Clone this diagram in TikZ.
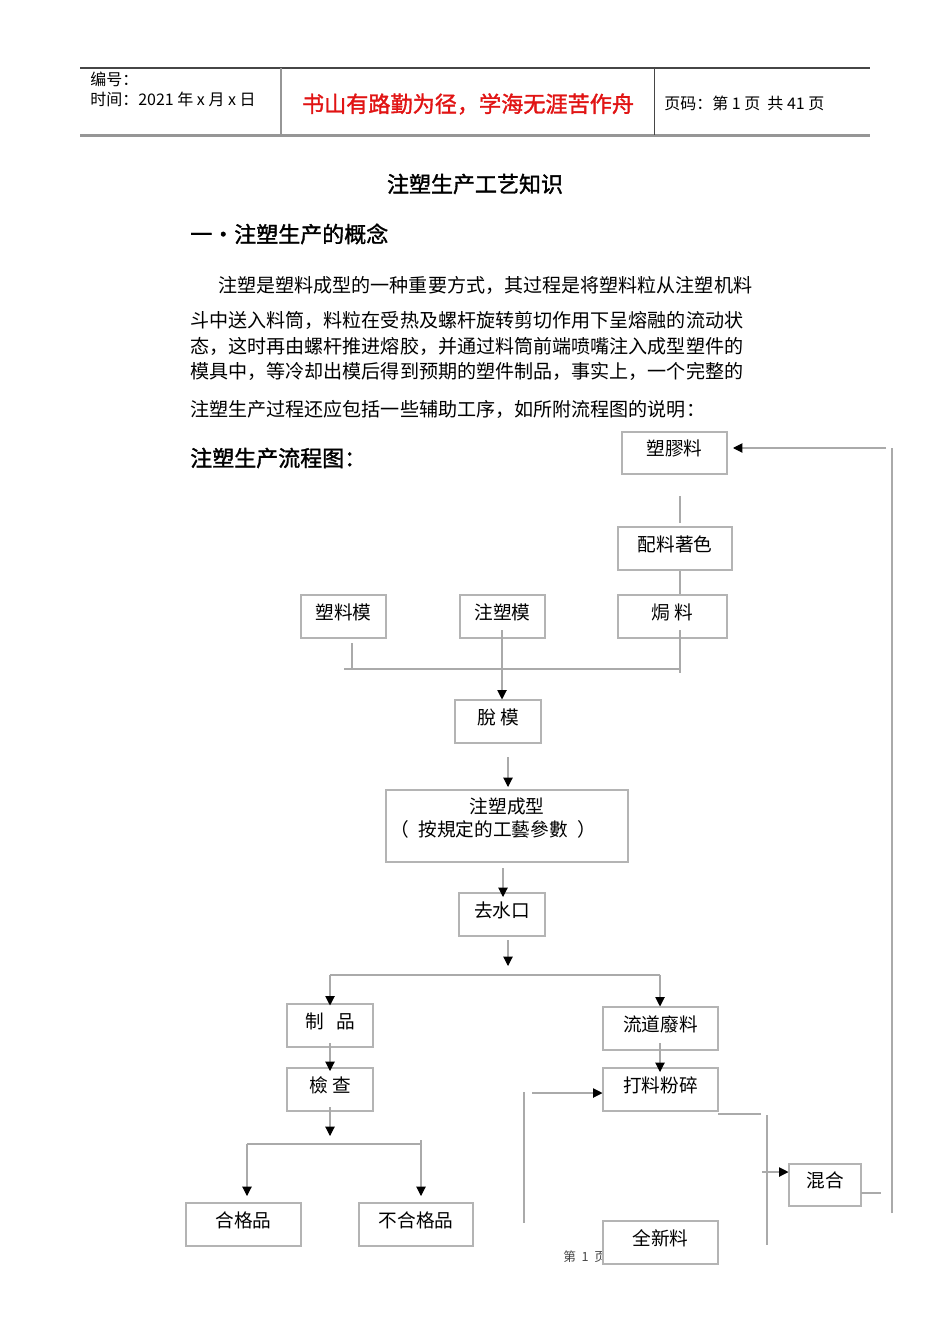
\documentclass[tikz,border=0pt]{standalone}
\usepackage{fontspec}
\setmainfont{Noto Sans CJK SC}
\newfontfamily\boldcjk{Noto Sans CJK SC}[FakeBold=1.5]
\usetikzlibrary{arrows.meta,calc}
\definecolor{linegray}{RGB}{170,170,170}
\definecolor{boxgray}{RGB}{180,180,180}
\definecolor{darkrule}{RGB}{70,70,70}
\definecolor{midrule}{RGB}{150,150,150}
\definecolor{motto}{RGB}{225,20,20}
\begin{document}
\begin{tikzpicture}[x=0.75pt,y=-0.75pt,
  wh/.style 2 args={minimum width=#1*0.75pt,minimum height=#2*0.75pt},
  box/.style={draw=boxgray,line width=0.8pt,fill=white,inner sep=0pt,
    text height=10pt,text depth=6pt,font=\fontsize{14}{17}\selectfont},
  conn/.style={draw=linegray,line width=0.8pt},
  arr/.style={conn,-{Triangle[width=7pt,length=7pt,color=black]}},
  txt/.style={anchor=west,inner sep=0pt},
  body/.style={txt,font=\fontsize{14.3}{17}\selectfont},
  head/.style={txt,font=\fontsize{12}{14}\selectfont},
  bold/.style={inner sep=0pt,font=\boldcjk\fontsize{16.5}{20}\selectfont}
]
\useasboundingbox[fill=white] (0,0) rectangle (950,1344);

% ---------- header ----------
\draw[darkrule,line width=1.1pt] (80,68) -- (870,68);
\draw[midrule,line width=1.8pt] (80,135.5) -- (870,135.5);
\draw[midrule,line width=1.2pt] (281,68) -- (281,135);
\draw[darkrule,line width=0.9pt] (654.5,68) -- (654.5,135);
\node[head] (hnum) at (90,79) {编号：};
\node[head] (hdate) at (90,99) {时间：2021 年 x 月 x 日};
\node[bold,text=motto,font=\boldcjk\fontsize{16.6}{20}\selectfont] (motto) at (468,104) {书山有路勤为径，学海无涯苦作舟};
\node[head] (hpage) at (664,103) {页码：第 1 页\ \ 共 41 页};

% ---------- title and text ----------
\node[bold] (title) at (475,184) {注塑生产工艺知识};
\node[bold,anchor=west] (sec1) at (190,234) {一·注塑生产的概念};
\node[body] (p1) at (218,285) {注塑是塑料成型的一种重要方式，其过程是将塑料粒从注塑机料};
\node[body] (p2) at (190,320) {斗中送入料筒，料粒在受热及螺杆旋转剪切作用下呈熔融的流动状};
\node[body] (p3) at (190,346) {态，这时再由螺杆推进熔胶，并通过料筒前端喷嘴注入成型塑件的};
\node[body] (p4) at (190,371) {模具中，等冷却出模后得到预期的塑件制品，事实上，一个完整的};
\node[body] (p5) at (190,409) {注塑生产过程还应包括一些辅助工序，如所附流程图的说明：};
\node[bold,anchor=west] (ftitle) at (190,458) {注塑生产流程图：};

% footer (partly hidden by a box)
\node[txt,text=darkrule,font=\fontsize{9.5}{11}\selectfont] (footer) at (563,1257) {第\ \ 1\ \ 页};

% ---------- boxes ----------
\node[box,wh={105}{42}] (plastic) at (674.5,453) {塑膠料};
\node[box,wh={114}{43}] (color)   at (675,548.5) {配料著色};
\node[box,wh={109}{43}] (bake)    at (672.5,616.5) {焗 料};
\node[box,wh={85}{43}]  (mold1)   at (343.5,616.5) {塑料模};
\node[box,wh={85}{43}]  (mold2)   at (502.5,616.5) {注塑模};
\node[box,wh={86}{43}]  (demold)  at (498,721.5) {脫 模};
\node[box,wh={242}{72}] (inject)  at (507,826) {};
\node[inner sep=0pt,align=center,font=\fontsize{14}{17.25}\selectfont] (injtext) at (493,818.5) {\hspace*{21pt}注塑成型\\（\enspace 按規定的工藝參數\enspace）};
\node[box,wh={86}{43}]  (sprue)   at (502,914.5) {去水口};
\node[box,wh={86}{43}]  (product) at (330,1025.5) {制\ \ \ 品};
\node[box,wh={115}{43}] (runner)  at (660.5,1028.5) {流道廢料};
\node[box,wh={86}{43}]  (inspect) at (330,1089.5) {檢 查};
\node[box,wh={115}{43}] (crush)   at (660.5,1089.5) {打料粉碎};
\node[box,wh={115}{43}] (pass)    at (243.5,1224.5) {合格品};
\node[box,wh={114}{43}] (fail)    at (416,1224.5) {不合格品};
\node[box,wh={72}{42}]  (mix)     at (825,1185) {混合};
\node[box,wh={115}{43}] (fresh)   at (660.5,1242.5) {全新料};

% ---------- connectors ----------
\coordinate (a1) at (680,496); \coordinate (a2) at (680,523);
\draw[conn] (a1) -- (a2);
\draw[conn] (color.south -| a1) -- (bake.north -| a1);
\coordinate (a3) at (680,630); \coordinate (a4) at (680,673);
\draw[conn] (a3) -- (a4);
\coordinate (h1) at (344,669); \coordinate (h2) at (680,669);
\draw[conn] (h1) -- (h2);
\coordinate (m1) at (352,643);
\draw[conn] (m1) -- (m1 |- h1);
\coordinate (m2) at (502,630);
\draw[arr] (m2) -- (m2 |- demold.north);
\coordinate (d1) at (508,757); \coordinate (d2) at (508,787);
\draw[arr] (d1) -- (d2);
\coordinate (i1) at (503,868); \coordinate (i2) at (503,897);
\draw[arr] (i1) -- (i2);
\coordinate (s1) at (508,940); \coordinate (s2) at (508,966);
\draw[arr] (s1) -- (s2);
\coordinate (b1) at (330,975); \coordinate (b2) at (660,975);
\draw[conn] (b1) -- (b2);
\draw[arr] (b1) -- ($(product.north)+(0,2)$);
\draw[arr] (b2) -- (b2 |- runner.north);
\coordinate (p1a) at (330,1043); \coordinate (p2a) at (330,1071);
\draw[arr] (p1a) -- (p2a);
\coordinate (q1) at (330,1107); \coordinate (q2) at (330,1136);
\draw[arr] (q1) -- (q2);
\coordinate (r1) at (247,1144); \coordinate (r2) at (421,1144); \coordinate (r0) at (421,1140);
\draw[conn] (r1) -- (r2);
\draw[arr] (r0) -- (421,1196);
\draw[arr] (r1) -- (247,1196);
\coordinate (u1) at (660,1043); \coordinate (u2) at (660,1072);
\draw[arr] (u1) -- (u2);
\coordinate (v1) at (524,1092); \coordinate (v2) at (524,1223);
\draw[conn] (v1) -- (v2);
\coordinate (w1) at (532,1093);
\draw[arr] (w1) -- (w1 -| crush.west);
\coordinate (x1) at (718,1114); \coordinate (x2) at (761,1114);
\draw[conn] (x1) -- (x2);
\coordinate (y1) at (767,1115); \coordinate (y2) at (767,1245);
\draw[conn] (y1) -- (y2);
\coordinate (z1) at (762,1172);
\draw[arr] (z1) -- (z1 -| mix.west);
\coordinate (k1) at (861,1193); \coordinate (k2) at (881,1193);
\draw[conn] (k1) -- (k2);
\coordinate (t1) at (892,1213); \coordinate (t2) at (892,448);
\draw[conn] (t1) -- (t2);
\coordinate (t3) at (886,448); \coordinate (t4) at (733,448);
\draw[arr] (t3) -- (t4);
\end{tikzpicture}
\end{document}
